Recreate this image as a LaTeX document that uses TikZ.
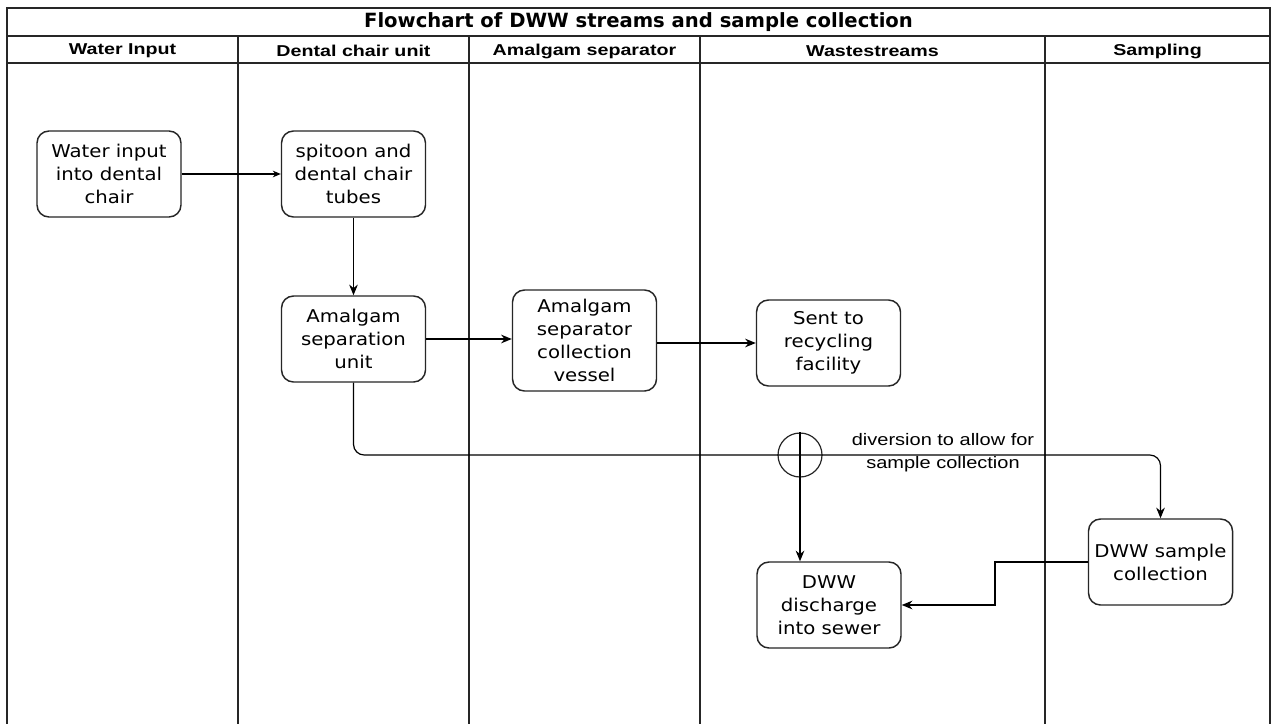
\documentclass[tikz,border=0pt]{standalone}
\usepackage{fontspec}
\usetikzlibrary{arrows.meta,calc}
\newfontfamily\boxfont[FakeStretch=1.12]{DejaVu Sans}
\newfontfamily\headfont[FakeStretch=1.25]{Liberation Sans}
\newfontfamily\labfont[FakeStretch=1.2]{Liberation Sans}
\newfontfamily\titfont{DejaVu Sans}
\tikzset{
  x=0.75pt, y=-0.75pt,
  frame/.style={line width=1.1pt, draw=black!85},
  lane/.style={line width=0.9pt, draw=black!85},
  proc/.style={draw=black!85, line width=1.1pt, rounded corners=9pt, fill=white,
    minimum width=108pt, minimum height=64.5pt, inner sep=0pt, align=center,
    font=\boxfont\fontsize{13.2}{17.2}\selectfont},
  flow/.style={line width=0.9pt, -{Stealth[length=8pt,width=6.5pt]}},
  head/.style={font=\headfont\bfseries\fontsize{11.8}{13}\selectfont, inner sep=0pt},
}
\begin{document}
\begin{tikzpicture}
\useasboundingbox (0,0) rectangle (1277,724);
\fill[white] (0,0) rectangle (1277,724);
% frame and lanes
\draw[frame] (7,724) -- (7,8) -- (1270,8) -- (1270,724);
\draw[frame] (7,36) -- (1270,36);
\draw[frame] (7,63) -- (1270,63);
\foreach \xx in {238,469,700,1045} \draw[lane] (\xx,36) -- (\xx,724);
\node[font=\titfont\bfseries\fontsize{14.7}{16}\selectfont, inner sep=0pt] (title) at (638.5,22) {Flowchart of DWW streams and sample collection};
\node[head] (h1) at (122.5,51) {Water Input};
\node[head] (h2) at (353.5,51) {Dental chair unit};
\node[head] (h3) at (584.5,51) {Amalgam separator};
\node[head] (h4) at (872.5,51) {Wastestreams};
\node[head] (h5) at (1157.5,51) {Sampling};
% boxes
\node[proc] (water) at (109,174) {Water input\\into dental\\chair};
\node[proc] (spit) at (353.5,174) {spitoon and\\dental chair\\tubes};
\node[proc] (asu) at (353.5,339) {Amalgam\\separation\\unit};
\node[proc, minimum height=75.75pt] (vessel) at (584.5,340.5) {Amalgam\\separator\\collection\\vessel};
\node[proc] (recyc) at (828.5,343) {Sent to\\recycling\\facility};
\node[proc] (disch) at (829,605) {DWW\\discharge\\into sewer};
\node[proc] (samp) at (1160.5,562) {DWW sample\\collection};
\node[draw=black!85, line width=0.9pt, circle, minimum size=33pt, inner sep=0pt] (circ) at (800,455) {};
\coordinate (jog) at (995,583);
% connectors
\draw[flow, -{Stealth[length=6pt,width=5pt]}] (water.east) -- (spit.west);
\draw[flow] (spit.south) -- (asu.north);
\draw[flow] (asu.east) -- (asu.east -| vessel.west);
\draw[flow] (vessel.east |- recyc.west) -- (recyc.west);
\draw[flow, rounded corners=8pt] (asu.south) |- (circ.center -| samp.north) -- (samp.north);
\draw[flow] (circ.north) -- (circ.north |- disch.north);
\draw[flow] (samp.west) -| (jog) |- (disch.east);
\node[font=\labfont\fontsize{12.5}{17}\selectfont, align=center, inner sep=0pt] (lab) at (943,453) {diversion to allow for\\sample collection};
\end{tikzpicture}
\end{document}
